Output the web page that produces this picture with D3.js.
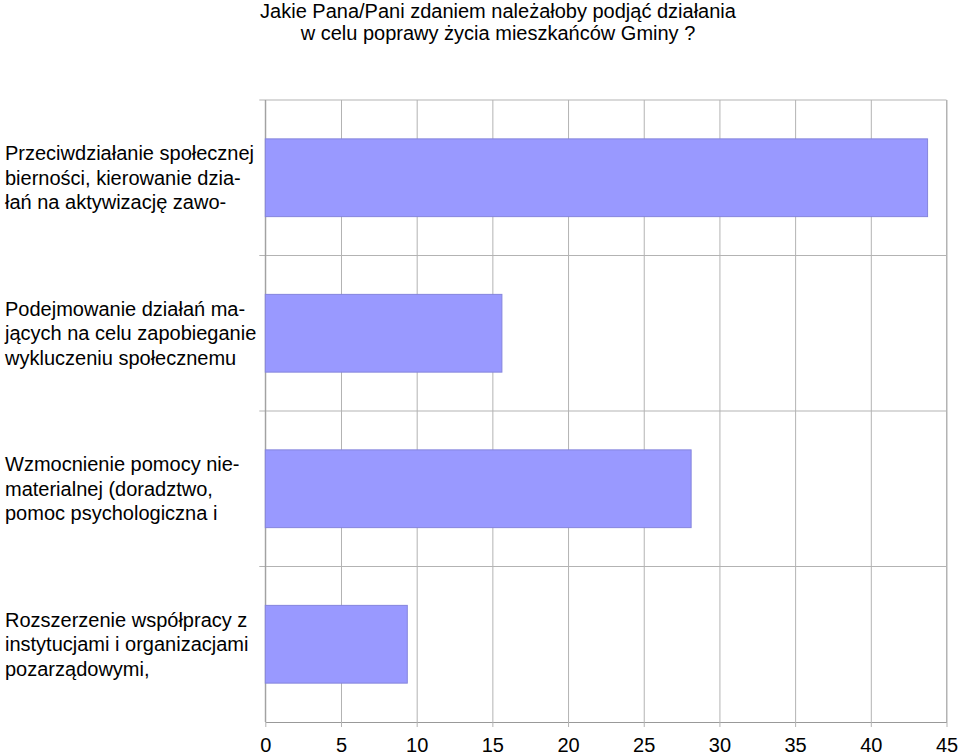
<!DOCTYPE html>
<html>
<head>
<meta charset="utf-8">
<script src="https://cdn.jsdelivr.net/npm/d3@7"></script>
<style>
  body { margin: 0; background: #fff; overflow: hidden; }
  text { font-family: "Liberation Sans", Arial, sans-serif; fill: #000; }
</style>
</head>
<body>
<div class="chart"></div>
<script>
// chart data
const titleLines = [
    'Jakie Pana/Pani zdaniem należałoby podjąć działania',
    'w celu poprawy życia mieszkańców Gminy ?'
];
const categories = [
    ['Przeciwdziałanie społecznej', 'bierności, kierowanie dzia-', 'łań na aktywizację zawo-'],
    ['Podejmowanie działań ma-', 'jących na celu zapobieganie', 'wykluczeniu społecznemu'],
    ['Wzmocnienie pomocy nie-', 'materialnej (doradztwo,', 'pomoc psychologiczna i'],
    ['Rozszerzenie współpracy z', 'instytucjami i organizacjami', 'pozarządowymi,']
];
const values = [43.75, 15.63, 28.13, 9.38];
const xTicks = [0, 5, 10, 15, 20, 25, 30, 35, 40, 45];

const width = 959;
const height = 754;
const plotLeft = 265.3, plotRight = 946.5, plotTop = 100, plotBottom = 722;
const gridColor = '#b3b3b3';
const fontSize = '20px';

const svg = d3.select('.chart')
    .append('svg')
    .attr('width', width)
    .attr('height', height)
    .style('display', 'block');

const xScale = d3.scaleLinear().domain([0, 45]).range([plotLeft, plotRight]);
const yScale = d3.scaleBand()
    .domain(d3.range(categories.length))
    .range([plotTop, plotBottom])
    .paddingInner(0.5)
    .paddingOuter(0.25);

// title
svg.append('g').selectAll('text')
    .data(titleLines).enter()
    .append('text')
    .attr('x', 498)
    .attr('y', (d, i) => 18 + i * 22)
    .attr('text-anchor', 'middle')
    .style('font-size', fontSize)
    .text(d => d);

// vertical grid + bottom axis
const xAxis = svg.append('g')
    .attr('transform', `translate(0, ${plotBottom})`)
    .call(d3.axisBottom(xScale)
        .tickValues(xTicks)
        .tickSizeInner(-(plotBottom - plotTop))
        .tickSizeOuter(0)
        .tickPadding(0));
xAxis.select('.domain').attr('stroke', '#999');
xAxis.selectAll('.tick line')
    .attr('stroke', gridColor)
    .attr('y1', 5);
xAxis.selectAll('.tick text')
    .attr('y', 29.5)
    .attr('dy', 0)
    .style('font-size', fontSize)
    .style('font-family', '"Liberation Sans", Arial, sans-serif');

// horizontal category boundaries
const gap = (yScale.step() - yScale.bandwidth()) / 2;
const bounds = categories.map((d, i) => yScale(i) - gap);
svg.append('g').selectAll('line')
    .data(bounds).enter()
    .append('line')
    .attr('x1', plotLeft - 6)
    .attr('x2', plotRight)
    .attr('y1', d => d)
    .attr('y2', d => d)
    .attr('stroke', gridColor);

// left axis line and right border
svg.append('line')
    .attr('x1', plotLeft).attr('x2', plotLeft)
    .attr('y1', plotTop).attr('y2', plotBottom)
    .attr('stroke', '#999');
svg.append('line')
    .attr('x1', plotRight).attr('x2', plotRight)
    .attr('y1', plotTop).attr('y2', plotBottom)
    .attr('stroke', gridColor);

// bars
svg.append('g').selectAll('rect')
    .data(values).enter()
    .append('rect')
    .attr('x', xScale(0))
    .attr('y', (d, i) => yScale(i))
    .attr('width', d => xScale(d) - xScale(0))
    .attr('height', yScale.bandwidth())
    .attr('fill', '#9999ff')
    .attr('stroke', '#8585dd')
    .attr('stroke-width', 1);

// category labels
const labels = svg.append('g').selectAll('g')
    .data(categories).enter()
    .append('g')
    .attr('transform', (d, i) => `translate(5, ${yScale(i) + yScale.bandwidth() / 2})`);
labels.selectAll('text')
    .data(d => d).enter()
    .append('text')
    .attr('x', 0)
    .attr('y', (d, i) => (i - 1) * 24.3)
    .attr('dy', '0.35em')
    .style('font-size', fontSize)
    .text(d => d);
</script>
</body>
</html>
